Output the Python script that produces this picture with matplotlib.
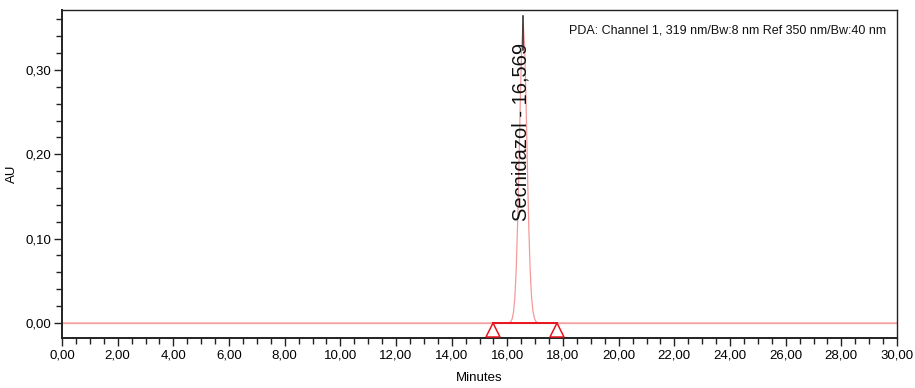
import numpy as np
import matplotlib.pyplot as plt
from matplotlib.ticker import MultipleLocator, FuncFormatter

plt.rcParams['font.family'] = ['Liberation Sans', 'DejaVu Sans']

# chromatogram trace (minutes, AU)
t = [0.0, 15.90, 16.07, 16.12, 16.17, 16.22, 16.27, 16.32, 16.37, 16.42,
     16.47, 16.52, 16.569, 16.62, 16.67, 16.72, 16.77, 16.82, 16.87,
     16.92, 16.97, 17.02, 17.08, 17.20, 30.0]
au = [0.0, 0.0, 0.0004, 0.0014, 0.0044, 0.0123, 0.030, 0.064, 0.119, 0.191,
      0.270, 0.331, 0.355, 0.329, 0.266, 0.186, 0.115, 0.063, 0.031,
      0.014, 0.006, 0.002, 0.0006, 0.0, 0.0]

peak_name = 'Secnidazol'
peak_rt = 16.569
peak_start = 15.50
peak_end = 17.78
channel_text = 'PDA: Channel 1, 319 nm/Bw:8 nm Ref 350 nm/Bw:40 nm'

fig = plt.figure(figsize=(9.15, 3.88), dpi=100)
ax = fig.add_axes([62/915, 50/388, (897-62)/915, (338-10)/388])

ax.axhline(0, color='#f6b6b6', lw=1.0, zorder=1)
ax.plot(t, au, color='#f49a9a', lw=0.9, zorder=2)

# integration baseline and markers
ax.plot([peak_start, peak_end], [0, 0], color='#e8141e', lw=1.4, zorder=3)
ax.plot([peak_start, peak_end], [-0.0085, -0.0085], linestyle='none', marker='^',
        markersize=10, markerfacecolor='none', markeredgecolor='#e8141e',
        markeredgewidth=1.1, zorder=3, clip_on=False)

ax.plot([peak_rt, peak_rt], [0.324, 0.364], color='#222222', lw=1.1, zorder=4)
ax.text(peak_rt - 0.08, 0.226, '%s - %s' % (peak_name, ('%.3f' % peak_rt).replace('.', ',')),
        rotation=90, ha='center', va='center', fontsize=14.5, color='#111111')

ax.text(0.987, 0.955, channel_text, transform=ax.transAxes, ha='right', va='top',
        fontsize=9, color='#111111')

ax.set_xlim(0, 30)
ax.set_ylim(-0.0178, 0.371)
ax.xaxis.set_major_locator(MultipleLocator(2))
ax.xaxis.set_minor_locator(MultipleLocator(0.5))
ax.yaxis.set_major_locator(MultipleLocator(0.10))
ax.yaxis.set_minor_locator(MultipleLocator(0.02))
fmt = FuncFormatter(lambda v, p: ('%.2f' % v).replace('.', ','))
ax.xaxis.set_major_formatter(fmt)
ax.yaxis.set_major_formatter(fmt)
ax.tick_params(which='major', length=6, width=1.0, labelsize=9.5, pad=2, color='#222222')
ax.tick_params(which='minor', length=4, width=1.0, color='#222222')
for s in ax.spines.values():
    s.set_color('#222222')
    s.set_linewidth(1.0)
ax.spines['left'].set_linewidth(1.4)
ax.spines['bottom'].set_linewidth(1.4)

ax.set_xlabel('Minutes', fontsize=9.5, labelpad=8)
ax.set_ylabel('AU', fontsize=9.5, labelpad=5)

fig.savefig('out.png', dpi=100)
